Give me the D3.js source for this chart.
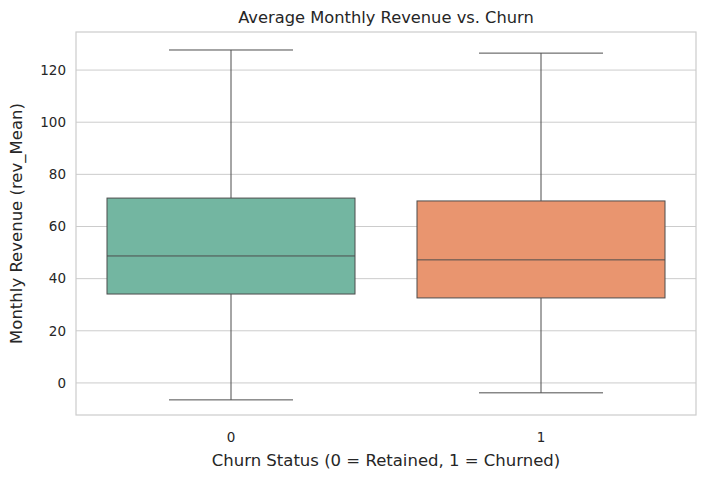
<!DOCTYPE html>
<html><head><meta charset="utf-8">
<script src="https://cdn.jsdelivr.net/npm/d3@7"></script>
<style>body{margin:0;background:#fff}text{font-family:"DejaVu Sans",sans-serif;fill:#262626}</style>
</head><body><svg id="c" width="705" height="479"></svg>
<script>
const categories=["0","1"];
const whiskerLow=[-6.5,-3.8];
const q1=[34.1,32.6];
const median=[48.7,47.2];
const q3=[70.9,69.8];
const whiskerHigh=[127.7,126.5];
const colors=["#73b6a1","#e9956f"];
const yTicks=[0,20,40,60,80,100,120];

const svg=d3.select("#c");
const L=76,R=696,T=32,B=415;
const x=d3.scaleBand().domain(categories).range([L,R]);
const y=d3.scaleLinear().domain([-12.3,134.6]).range([B,T]);
const g=svg.append("g");
yTicks.forEach(t=>{
  g.append("line").attr("x1",L).attr("x2",R).attr("y1",y(t)).attr("y2",y(t)).attr("stroke","#cccccc").attr("stroke-width",1);
  g.append("text").attr("x",L-10).attr("y",y(t)).attr("dy","0.35em").attr("text-anchor","end").attr("font-size",13.5).text(t);
});
categories.forEach((c,i)=>{
  const cx=x(c)+x.bandwidth()/2, w=x.bandwidth()*0.8;
  g.append("line").attr("x1",cx).attr("x2",cx).attr("y1",y(whiskerHigh[i])).attr("y2",y(q3[i])).attr("stroke","#4d4d4d");
  g.append("line").attr("x1",cx).attr("x2",cx).attr("y1",y(q1[i])).attr("y2",y(whiskerLow[i])).attr("stroke","#4d4d4d");
  [whiskerHigh[i],whiskerLow[i]].forEach(v=>g.append("line").attr("x1",cx-w/4).attr("x2",cx+w/4).attr("y1",y(v)).attr("y2",y(v)).attr("stroke","#4d4d4d"));
  g.append("rect").attr("x",cx-w/2).attr("width",w).attr("y",y(q3[i])).attr("height",y(q1[i])-y(q3[i])).attr("fill",colors[i]).attr("stroke","#4d4d4d");
  g.append("line").attr("x1",cx-w/2).attr("x2",cx+w/2).attr("y1",y(median[i])).attr("y2",y(median[i])).attr("stroke","#4d4d4d");
  g.append("text").attr("x",cx).attr("y",B+27).attr("text-anchor","middle").attr("font-size",13.5).text(c);
});
g.append("rect").attr("x",L).attr("y",T).attr("width",R-L).attr("height",B-T).attr("fill","none").attr("stroke","#cccccc").attr("stroke-width",1.2);
svg.append("text").attr("x",(L+R)/2).attr("y",23).attr("text-anchor","middle").attr("font-size",16.3).text("Average Monthly Revenue vs. Churn");
svg.append("text").attr("x",(L+R)/2).attr("y",466).attr("text-anchor","middle").attr("font-size",16.5).text("Churn Status (0 = Retained, 1 = Churned)");
svg.append("text").attr("transform",`translate(22,${(T+B)/2}) rotate(-90)`).attr("text-anchor","middle").attr("font-size",16.5).text("Monthly Revenue (rev_Mean)");
</script></body></html>
